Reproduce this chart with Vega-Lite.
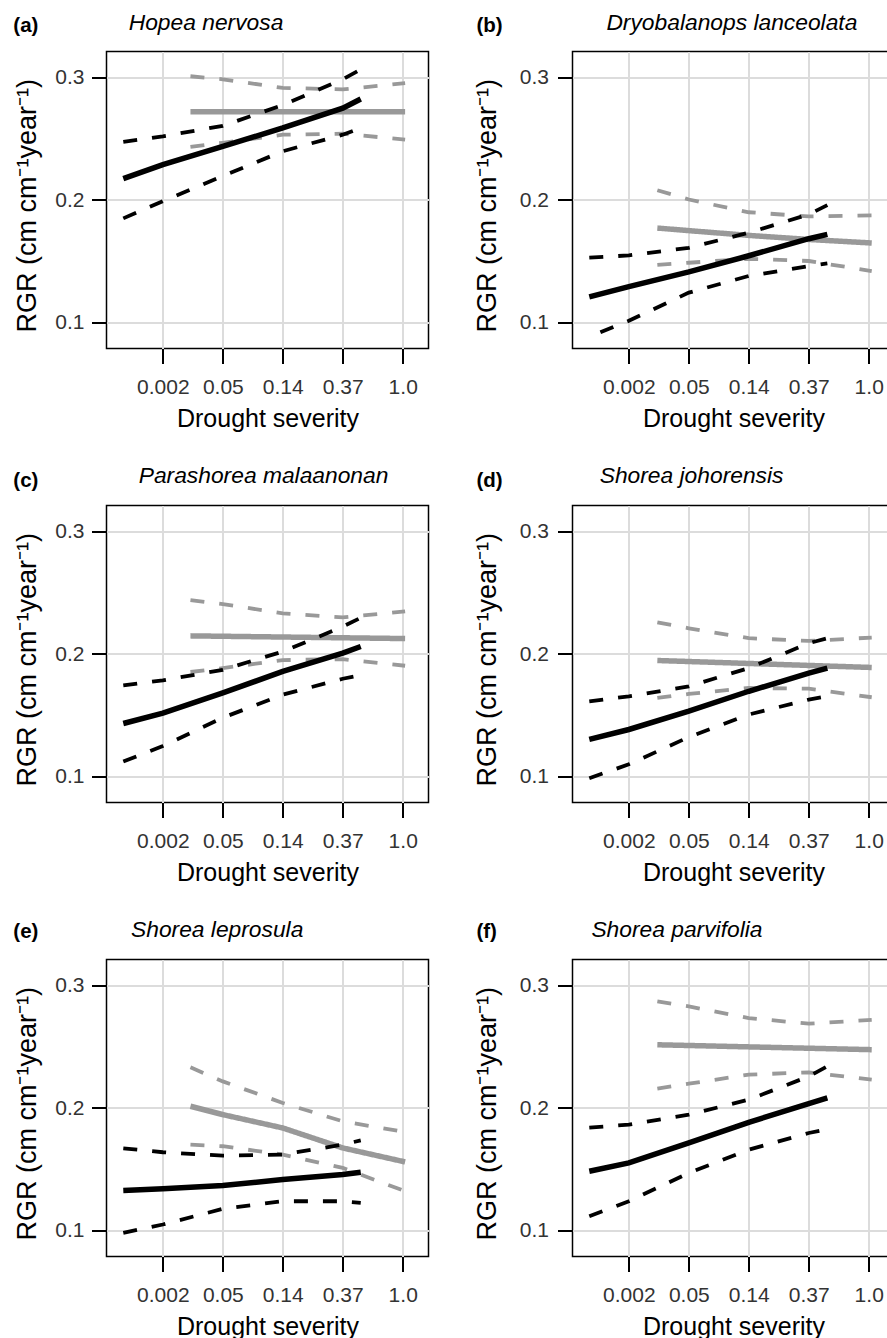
{
  "$schema": "https://vega.github.io/schema/vega-lite/v6.json",
  "padding": {"left": 11.5, "top": 9.5, "right": 0, "bottom": 0},
  "background": "white",
  "data": {"values": [
    {"panel":"a","group":"grey","kind":"fit","x":1.46,"y":0.272},{"panel":"a","group":"grey","kind":"fit","x":5.04,"y":0.272},
    {"panel":"a","group":"grey","kind":"upper","x":1.46,"y":0.301},{"panel":"a","group":"grey","kind":"upper","x":2,"y":0.2985},{"panel":"a","group":"grey","kind":"upper","x":3,"y":0.2915},{"panel":"a","group":"grey","kind":"upper","x":4,"y":0.2903},{"panel":"a","group":"grey","kind":"upper","x":5.04,"y":0.2954},
    {"panel":"a","group":"grey","kind":"lower","x":1.46,"y":0.2433},{"panel":"a","group":"grey","kind":"lower","x":2,"y":0.2467},{"panel":"a","group":"grey","kind":"lower","x":3,"y":0.2533},{"panel":"a","group":"grey","kind":"lower","x":4,"y":0.2541},{"panel":"a","group":"grey","kind":"lower","x":5.04,"y":0.2493},
    {"panel":"a","group":"black","kind":"fit","x":0.34,"y":0.2175},{"panel":"a","group":"black","kind":"fit","x":1,"y":0.2289},{"panel":"a","group":"black","kind":"fit","x":2,"y":0.2438},{"panel":"a","group":"black","kind":"fit","x":3,"y":0.2588},{"panel":"a","group":"black","kind":"fit","x":4,"y":0.275},{"panel":"a","group":"black","kind":"fit","x":4.3,"y":0.2824},
    {"panel":"a","group":"black","kind":"upper","x":0.34,"y":0.2474},{"panel":"a","group":"black","kind":"upper","x":1,"y":0.252},{"panel":"a","group":"black","kind":"upper","x":2,"y":0.2605},{"panel":"a","group":"black","kind":"upper","x":3,"y":0.2775},{"panel":"a","group":"black","kind":"upper","x":4,"y":0.2985},{"panel":"a","group":"black","kind":"upper","x":4.3,"y":0.3065},
    {"panel":"a","group":"black","kind":"lower","x":0.34,"y":0.185},{"panel":"a","group":"black","kind":"lower","x":1,"y":0.199},{"panel":"a","group":"black","kind":"lower","x":2,"y":0.2195},{"panel":"a","group":"black","kind":"lower","x":3,"y":0.2398},{"panel":"a","group":"black","kind":"lower","x":4,"y":0.2533},{"panel":"a","group":"black","kind":"lower","x":4.3,"y":0.2588},

    {"panel":"b","group":"grey","kind":"fit","x":1.475,"y":0.1771},{"panel":"b","group":"grey","kind":"fit","x":2,"y":0.175},{"panel":"b","group":"grey","kind":"fit","x":3,"y":0.1711},{"panel":"b","group":"grey","kind":"fit","x":4,"y":0.1678},{"panel":"b","group":"grey","kind":"fit","x":5.05,"y":0.1649},
    {"panel":"b","group":"grey","kind":"upper","x":1.475,"y":0.208},{"panel":"b","group":"grey","kind":"upper","x":2,"y":0.2004},{"panel":"b","group":"grey","kind":"upper","x":3,"y":0.19},{"panel":"b","group":"grey","kind":"upper","x":4,"y":0.1866},{"panel":"b","group":"grey","kind":"upper","x":5.05,"y":0.1874},
    {"panel":"b","group":"grey","kind":"lower","x":1.475,"y":0.147},{"panel":"b","group":"grey","kind":"lower","x":2,"y":0.1488},{"panel":"b","group":"grey","kind":"lower","x":3,"y":0.152},{"panel":"b","group":"grey","kind":"lower","x":4,"y":0.1502},{"panel":"b","group":"grey","kind":"lower","x":5.05,"y":0.142},
    {"panel":"b","group":"black","kind":"fit","x":0.34,"y":0.121},{"panel":"b","group":"black","kind":"fit","x":1,"y":0.1293},{"panel":"b","group":"black","kind":"fit","x":2,"y":0.1413},{"panel":"b","group":"black","kind":"fit","x":3,"y":0.1545},{"panel":"b","group":"black","kind":"fit","x":4,"y":0.1684},{"panel":"b","group":"black","kind":"fit","x":4.31,"y":0.172},
    {"panel":"b","group":"black","kind":"upper","x":0.34,"y":0.1529},{"panel":"b","group":"black","kind":"upper","x":1,"y":0.1548},{"panel":"b","group":"black","kind":"upper","x":2,"y":0.161},{"panel":"b","group":"black","kind":"upper","x":3,"y":0.1733},{"panel":"b","group":"black","kind":"upper","x":4,"y":0.1882},{"panel":"b","group":"black","kind":"upper","x":4.31,"y":0.1958},
    {"panel":"b","group":"black","kind":"lower","x":0.525,"y":0.092},{"panel":"b","group":"black","kind":"lower","x":1,"y":0.1014},{"panel":"b","group":"black","kind":"lower","x":2,"y":0.1244},{"panel":"b","group":"black","kind":"lower","x":3,"y":0.138},{"panel":"b","group":"black","kind":"lower","x":4,"y":0.1461},{"panel":"b","group":"black","kind":"lower","x":4.31,"y":0.1483},

    {"panel":"c","group":"grey","kind":"fit","x":1.46,"y":0.2148},{"panel":"c","group":"grey","kind":"fit","x":5.04,"y":0.2126},
    {"panel":"c","group":"grey","kind":"upper","x":1.46,"y":0.244},{"panel":"c","group":"grey","kind":"upper","x":2,"y":0.2407},{"panel":"c","group":"grey","kind":"upper","x":3,"y":0.2332},{"panel":"c","group":"grey","kind":"upper","x":4,"y":0.2299},{"panel":"c","group":"grey","kind":"upper","x":5.04,"y":0.2348},
    {"panel":"c","group":"grey","kind":"lower","x":1.46,"y":0.1853},{"panel":"c","group":"grey","kind":"lower","x":2,"y":0.1885},{"panel":"c","group":"grey","kind":"lower","x":3,"y":0.195},{"panel":"c","group":"grey","kind":"lower","x":4,"y":0.1958},{"panel":"c","group":"grey","kind":"lower","x":5.04,"y":0.1904},
    {"panel":"c","group":"black","kind":"fit","x":0.34,"y":0.1433},{"panel":"c","group":"black","kind":"fit","x":1,"y":0.1517},{"panel":"c","group":"black","kind":"fit","x":2,"y":0.1682},{"panel":"c","group":"black","kind":"fit","x":3,"y":0.1858},{"panel":"c","group":"black","kind":"fit","x":4,"y":0.2007},{"panel":"c","group":"black","kind":"fit","x":4.3,"y":0.2061},
    {"panel":"c","group":"black","kind":"upper","x":0.34,"y":0.1744},{"panel":"c","group":"black","kind":"upper","x":1,"y":0.1785},{"panel":"c","group":"black","kind":"upper","x":2,"y":0.1871},{"panel":"c","group":"black","kind":"upper","x":3,"y":0.202},{"panel":"c","group":"black","kind":"upper","x":4,"y":0.2223},{"panel":"c","group":"black","kind":"upper","x":4.3,"y":0.2296},
    {"panel":"c","group":"black","kind":"lower","x":0.34,"y":0.1122},{"panel":"c","group":"black","kind":"lower","x":1,"y":0.1249},{"panel":"c","group":"black","kind":"lower","x":2,"y":0.148},{"panel":"c","group":"black","kind":"lower","x":3,"y":0.1668},{"panel":"c","group":"black","kind":"lower","x":4,"y":0.1798},{"panel":"c","group":"black","kind":"lower","x":4.27,"y":0.1825},

    {"panel":"d","group":"grey","kind":"fit","x":1.475,"y":0.1947},{"panel":"d","group":"grey","kind":"fit","x":5.05,"y":0.189},
    {"panel":"d","group":"grey","kind":"upper","x":1.475,"y":0.2258},{"panel":"d","group":"grey","kind":"upper","x":2,"y":0.221},{"panel":"d","group":"grey","kind":"upper","x":3,"y":0.2129},{"panel":"d","group":"grey","kind":"upper","x":4,"y":0.2107},{"panel":"d","group":"grey","kind":"upper","x":5.05,"y":0.2134},
    {"panel":"d","group":"grey","kind":"lower","x":1.475,"y":0.1641},{"panel":"d","group":"grey","kind":"lower","x":2,"y":0.1674},{"panel":"d","group":"grey","kind":"lower","x":3,"y":0.1723},{"panel":"d","group":"grey","kind":"lower","x":4,"y":0.1717},{"panel":"d","group":"grey","kind":"lower","x":5.05,"y":0.1647},
    {"panel":"d","group":"black","kind":"fit","x":0.34,"y":0.1303},{"panel":"d","group":"black","kind":"fit","x":1,"y":0.1384},{"panel":"d","group":"black","kind":"fit","x":2,"y":0.1533},{"panel":"d","group":"black","kind":"fit","x":3,"y":0.1696},{"panel":"d","group":"black","kind":"fit","x":4,"y":0.1844},{"panel":"d","group":"black","kind":"fit","x":4.31,"y":0.1885},
    {"panel":"d","group":"black","kind":"upper","x":0.34,"y":0.1614},{"panel":"d","group":"black","kind":"upper","x":1,"y":0.1655},{"panel":"d","group":"black","kind":"upper","x":2,"y":0.1736},{"panel":"d","group":"black","kind":"upper","x":3,"y":0.1885},{"panel":"d","group":"black","kind":"upper","x":4,"y":0.2088},{"panel":"d","group":"black","kind":"upper","x":4.31,"y":0.2129},
    {"panel":"d","group":"black","kind":"lower","x":0.34,"y":0.0986},{"panel":"d","group":"black","kind":"lower","x":1,"y":0.11},{"panel":"d","group":"black","kind":"lower","x":2,"y":0.1322},{"panel":"d","group":"black","kind":"lower","x":3,"y":0.1506},{"panel":"d","group":"black","kind":"lower","x":4,"y":0.1628},{"panel":"d","group":"black","kind":"lower","x":4.31,"y":0.1655},

    {"panel":"e","group":"grey","kind":"fit","x":1.46,"y":0.2014},{"panel":"e","group":"grey","kind":"fit","x":2,"y":0.1946},{"panel":"e","group":"grey","kind":"fit","x":3,"y":0.1837},{"panel":"e","group":"grey","kind":"fit","x":4,"y":0.1674},{"panel":"e","group":"grey","kind":"fit","x":5.04,"y":0.156},
    {"panel":"e","group":"grey","kind":"upper","x":1.46,"y":0.2332},{"panel":"e","group":"grey","kind":"upper","x":2,"y":0.2217},{"panel":"e","group":"grey","kind":"upper","x":3,"y":0.2041},{"panel":"e","group":"grey","kind":"upper","x":4,"y":0.1891},{"panel":"e","group":"grey","kind":"upper","x":5.04,"y":0.1804},
    {"panel":"e","group":"grey","kind":"lower","x":1.46,"y":0.1701},{"panel":"e","group":"grey","kind":"lower","x":2,"y":0.1688},{"panel":"e","group":"grey","kind":"lower","x":3,"y":0.162},{"panel":"e","group":"grey","kind":"lower","x":4,"y":0.1511},{"panel":"e","group":"grey","kind":"lower","x":5.04,"y":0.1321},
    {"panel":"e","group":"black","kind":"fit","x":0.34,"y":0.1326},{"panel":"e","group":"black","kind":"fit","x":1,"y":0.134},{"panel":"e","group":"black","kind":"fit","x":2,"y":0.1367},{"panel":"e","group":"black","kind":"fit","x":3,"y":0.1416},{"panel":"e","group":"black","kind":"fit","x":4,"y":0.1457},{"panel":"e","group":"black","kind":"fit","x":4.3,"y":0.1476},
    {"panel":"e","group":"black","kind":"upper","x":0.34,"y":0.1671},{"panel":"e","group":"black","kind":"upper","x":1,"y":0.1639},{"panel":"e","group":"black","kind":"upper","x":2,"y":0.1611},{"panel":"e","group":"black","kind":"upper","x":3,"y":0.162},{"panel":"e","group":"black","kind":"upper","x":4,"y":0.1701},{"panel":"e","group":"black","kind":"upper","x":4.3,"y":0.1736},
    {"panel":"e","group":"black","kind":"lower","x":0.34,"y":0.0981},{"panel":"e","group":"black","kind":"lower","x":1,"y":0.1049},{"panel":"e","group":"black","kind":"lower","x":2,"y":0.1177},{"panel":"e","group":"black","kind":"lower","x":3,"y":0.1239},{"panel":"e","group":"black","kind":"lower","x":4,"y":0.1239},{"panel":"e","group":"black","kind":"lower","x":4.3,"y":0.1226},

    {"panel":"f","group":"grey","kind":"fit","x":1.475,"y":0.2516},{"panel":"f","group":"grey","kind":"fit","x":5.05,"y":0.2476},
    {"panel":"f","group":"grey","kind":"upper","x":1.475,"y":0.287},{"panel":"f","group":"grey","kind":"upper","x":2,"y":0.2829},{"panel":"f","group":"grey","kind":"upper","x":3,"y":0.2734},{"panel":"f","group":"grey","kind":"upper","x":4,"y":0.2688},{"panel":"f","group":"grey","kind":"upper","x":5.05,"y":0.272},
    {"panel":"f","group":"grey","kind":"lower","x":1.475,"y":0.2158},{"panel":"f","group":"grey","kind":"lower","x":2,"y":0.2198},{"panel":"f","group":"grey","kind":"lower","x":3,"y":0.2272},{"panel":"f","group":"grey","kind":"lower","x":4,"y":0.2291},{"panel":"f","group":"grey","kind":"lower","x":5.05,"y":0.2231},
    {"panel":"f","group":"black","kind":"fit","x":0.34,"y":0.1484},{"panel":"f","group":"black","kind":"fit","x":1,"y":0.1552},{"panel":"f","group":"black","kind":"fit","x":2,"y":0.1715},{"panel":"f","group":"black","kind":"fit","x":3,"y":0.1883},{"panel":"f","group":"black","kind":"fit","x":4,"y":0.2035},{"panel":"f","group":"black","kind":"fit","x":4.31,"y":0.2082},
    {"panel":"f","group":"black","kind":"upper","x":0.34,"y":0.184},{"panel":"f","group":"black","kind":"upper","x":1,"y":0.1864},{"panel":"f","group":"black","kind":"upper","x":2,"y":0.1946},{"panel":"f","group":"black","kind":"upper","x":3,"y":0.2068},{"panel":"f","group":"black","kind":"upper","x":4,"y":0.2258},{"panel":"f","group":"black","kind":"upper","x":4.31,"y":0.234},
    {"panel":"f","group":"black","kind":"lower","x":0.34,"y":0.1117},{"panel":"f","group":"black","kind":"lower","x":1,"y":0.1239},{"panel":"f","group":"black","kind":"lower","x":2,"y":0.147},{"panel":"f","group":"black","kind":"lower","x":3,"y":0.166},{"panel":"f","group":"black","kind":"lower","x":4,"y":0.1796},{"panel":"f","group":"black","kind":"lower","x":4.27,"y":0.1823}
  ]},
  "columns": 2,
  "bounds": "flush",
  "spacing": {"row": 157, "column": 144},
  "concat": [
    {
      "width": 322, "height": 297,
      "transform": [{"filter": "datum.panel === 'a'"}],
      "resolve": {"scale": {"x": "independent"}},
      "layer": [
        {"transform": [{"filter": "datum.group === 'grey'"}],
         "mark": {"type": "line", "color": "#999999"},
         "encoding": {
           "x": {"field": "x", "type": "quantitative", "scale": {"domain": [0.06, 5.43], "nice": false, "zero": false},
                 "axis": {"orient": "bottom", "values": [1,2,3,4,5], "labelExpr": "['','0.002','0.05','0.14','0.37','1.0'][datum.value]", "title": "Drought severity"}},
           "y": {"field": "y", "type": "quantitative", "scale": {"domain": [0.0788, 0.3212], "nice": false, "zero": false},
                 "axis": {"values": [0.1,0.2,0.3], "format": ".1f", "title": "RGR (cm cm⁻¹year⁻¹)", "labelPadding": 7.5, "titleX": -79.3}},
           "detail": {"field": "kind", "type": "nominal"},
           "strokeWidth": {"condition": {"test": "datum.kind === 'fit'", "value": 5.5}, "value": 3.8},
           "strokeDash": {"condition": {"test": "datum.kind === 'fit'", "value": [1, 0]}, "value": [14, 15]}
         }},
        {"transform": [{"filter": "datum.group === 'black' && datum.kind !== 'fit'"}],
         "mark": {"type": "line", "color": "#000000", "strokeWidth": 3.8, "strokeDash": [14, 15]},
         "encoding": {
           "x": {"field": "x", "type": "quantitative", "scale": {"domain": [0.06, 5.43], "nice": false, "zero": false},
                 "axis": {"orient": "top", "domain": false, "ticks": false, "labels": false, "grid": false, "title": "(a)", "titleFontSize": 20.5, "titleFontWeight": "bold", "titleAlign": "left", "titleX": -93.7, "titleY": -20}},
           "y": {"field": "y", "type": "quantitative", "scale": {"domain": [0.0788, 0.3212], "nice": false, "zero": false}},
           "detail": {"field": "kind", "type": "nominal"}
         }},
        {"transform": [{"filter": "datum.group === 'black' && datum.kind === 'fit'"}],
         "mark": {"type": "line", "color": "#000000", "strokeWidth": 5.5},
         "encoding": {
           "x": {"field": "x", "type": "quantitative", "scale": {"domain": [0.06, 5.43], "nice": false, "zero": false},
                 "axis": {"orient": "top", "domain": false, "ticks": false, "labels": false, "grid": false, "title": "Hopea nervosa", "titleFontSize": 22.8, "titleFontStyle": "italic", "titleAlign": "left", "titleX": 21.7, "titleY": -22.5}},
           "y": {"field": "y", "type": "quantitative", "scale": {"domain": [0.0788, 0.3212], "nice": false, "zero": false}}
         }}
      ]
    },
    {
      "width": 322, "height": 297,
      "transform": [{"filter": "datum.panel === 'b'"}],
      "resolve": {"scale": {"x": "independent"}},
      "layer": [
        {"transform": [{"filter": "datum.group === 'grey'"}],
         "mark": {"type": "line", "color": "#999999"},
         "encoding": {
           "x": {"field": "x", "type": "quantitative", "scale": {"domain": [0.06, 5.43], "nice": false, "zero": false},
                 "axis": {"orient": "bottom", "values": [1,2,3,4,5], "labelExpr": "['','0.002','0.05','0.14','0.37','1.0'][datum.value]", "title": "Drought severity"}},
           "y": {"field": "y", "type": "quantitative", "scale": {"domain": [0.0788, 0.3212], "nice": false, "zero": false},
                 "axis": {"values": [0.1,0.2,0.3], "format": ".1f", "title": "RGR (cm cm⁻¹year⁻¹)", "labelPadding": 9, "titleX": -85}},
           "detail": {"field": "kind", "type": "nominal"},
           "strokeWidth": {"condition": {"test": "datum.kind === 'fit'", "value": 5.5}, "value": 3.8},
           "strokeDash": {"condition": {"test": "datum.kind === 'fit'", "value": [1, 0]}, "value": [14, 15]}
         }},
        {"transform": [{"filter": "datum.group === 'black' && datum.kind !== 'fit'"}],
         "mark": {"type": "line", "color": "#000000", "strokeWidth": 3.8, "strokeDash": [14, 15]},
         "encoding": {
           "x": {"field": "x", "type": "quantitative", "scale": {"domain": [0.06, 5.43], "nice": false, "zero": false},
                 "axis": {"orient": "top", "domain": false, "ticks": false, "labels": false, "grid": false, "title": "(b)", "titleFontSize": 20.5, "titleFontWeight": "bold", "titleAlign": "left", "titleX": -96.6, "titleY": -20}},
           "y": {"field": "y", "type": "quantitative", "scale": {"domain": [0.0788, 0.3212], "nice": false, "zero": false}},
           "detail": {"field": "kind", "type": "nominal"}
         }},
        {"transform": [{"filter": "datum.group === 'black' && datum.kind === 'fit'"}],
         "mark": {"type": "line", "color": "#000000", "strokeWidth": 5.5},
         "encoding": {
           "x": {"field": "x", "type": "quantitative", "scale": {"domain": [0.06, 5.43], "nice": false, "zero": false},
                 "axis": {"orient": "top", "domain": false, "ticks": false, "labels": false, "grid": false, "title": "Dryobalanops lanceolata", "titleFontSize": 22.8, "titleFontStyle": "italic", "titleAlign": "left", "titleX": 33.4, "titleY": -22.5}},
           "y": {"field": "y", "type": "quantitative", "scale": {"domain": [0.0788, 0.3212], "nice": false, "zero": false}}
         }}
      ]
    },
    {
      "width": 322, "height": 297,
      "transform": [{"filter": "datum.panel === 'c'"}],
      "resolve": {"scale": {"x": "independent"}},
      "layer": [
        {"transform": [{"filter": "datum.group === 'grey'"}],
         "mark": {"type": "line", "color": "#999999"},
         "encoding": {
           "x": {"field": "x", "type": "quantitative", "scale": {"domain": [0.06, 5.43], "nice": false, "zero": false},
                 "axis": {"orient": "bottom", "values": [1,2,3,4,5], "labelExpr": "['','0.002','0.05','0.14','0.37','1.0'][datum.value]", "title": "Drought severity"}},
           "y": {"field": "y", "type": "quantitative", "scale": {"domain": [0.0788, 0.3212], "nice": false, "zero": false},
                 "axis": {"values": [0.1,0.2,0.3], "format": ".1f", "title": "RGR (cm cm⁻¹year⁻¹)", "labelPadding": 7.5, "titleX": -79.3}},
           "detail": {"field": "kind", "type": "nominal"},
           "strokeWidth": {"condition": {"test": "datum.kind === 'fit'", "value": 5.5}, "value": 3.8},
           "strokeDash": {"condition": {"test": "datum.kind === 'fit'", "value": [1, 0]}, "value": [14, 15]}
         }},
        {"transform": [{"filter": "datum.group === 'black' && datum.kind !== 'fit'"}],
         "mark": {"type": "line", "color": "#000000", "strokeWidth": 3.8, "strokeDash": [14, 15]},
         "encoding": {
           "x": {"field": "x", "type": "quantitative", "scale": {"domain": [0.06, 5.43], "nice": false, "zero": false},
                 "axis": {"orient": "top", "domain": false, "ticks": false, "labels": false, "grid": false, "title": "(c)", "titleFontSize": 20.5, "titleFontWeight": "bold", "titleAlign": "left", "titleX": -93.7, "titleY": -19.5}},
           "y": {"field": "y", "type": "quantitative", "scale": {"domain": [0.0788, 0.3212], "nice": false, "zero": false}},
           "detail": {"field": "kind", "type": "nominal"}
         }},
        {"transform": [{"filter": "datum.group === 'black' && datum.kind === 'fit'"}],
         "mark": {"type": "line", "color": "#000000", "strokeWidth": 5.5},
         "encoding": {
           "x": {"field": "x", "type": "quantitative", "scale": {"domain": [0.06, 5.43], "nice": false, "zero": false},
                 "axis": {"orient": "top", "domain": false, "ticks": false, "labels": false, "grid": false, "title": "Parashorea malaanonan", "titleFontSize": 22.8, "titleFontStyle": "italic", "titleAlign": "left", "titleX": 31.7, "titleY": -23}},
           "y": {"field": "y", "type": "quantitative", "scale": {"domain": [0.0788, 0.3212], "nice": false, "zero": false}}
         }}
      ]
    },
    {
      "width": 322, "height": 297,
      "transform": [{"filter": "datum.panel === 'd'"}],
      "resolve": {"scale": {"x": "independent"}},
      "layer": [
        {"transform": [{"filter": "datum.group === 'grey'"}],
         "mark": {"type": "line", "color": "#999999"},
         "encoding": {
           "x": {"field": "x", "type": "quantitative", "scale": {"domain": [0.06, 5.43], "nice": false, "zero": false},
                 "axis": {"orient": "bottom", "values": [1,2,3,4,5], "labelExpr": "['','0.002','0.05','0.14','0.37','1.0'][datum.value]", "title": "Drought severity"}},
           "y": {"field": "y", "type": "quantitative", "scale": {"domain": [0.0788, 0.3212], "nice": false, "zero": false},
                 "axis": {"values": [0.1,0.2,0.3], "format": ".1f", "title": "RGR (cm cm⁻¹year⁻¹)", "labelPadding": 9, "titleX": -85}},
           "detail": {"field": "kind", "type": "nominal"},
           "strokeWidth": {"condition": {"test": "datum.kind === 'fit'", "value": 5.5}, "value": 3.8},
           "strokeDash": {"condition": {"test": "datum.kind === 'fit'", "value": [1, 0]}, "value": [14, 15]}
         }},
        {"transform": [{"filter": "datum.group === 'black' && datum.kind !== 'fit'"}],
         "mark": {"type": "line", "color": "#000000", "strokeWidth": 3.8, "strokeDash": [14, 15]},
         "encoding": {
           "x": {"field": "x", "type": "quantitative", "scale": {"domain": [0.06, 5.43], "nice": false, "zero": false},
                 "axis": {"orient": "top", "domain": false, "ticks": false, "labels": false, "grid": false, "title": "(d)", "titleFontSize": 20.5, "titleFontWeight": "bold", "titleAlign": "left", "titleX": -96.6, "titleY": -19.5}},
           "y": {"field": "y", "type": "quantitative", "scale": {"domain": [0.0788, 0.3212], "nice": false, "zero": false}},
           "detail": {"field": "kind", "type": "nominal"}
         }},
        {"transform": [{"filter": "datum.group === 'black' && datum.kind === 'fit'"}],
         "mark": {"type": "line", "color": "#000000", "strokeWidth": 5.5},
         "encoding": {
           "x": {"field": "x", "type": "quantitative", "scale": {"domain": [0.06, 5.43], "nice": false, "zero": false},
                 "axis": {"orient": "top", "domain": false, "ticks": false, "labels": false, "grid": false, "title": "Shorea johorensis", "titleFontSize": 22.8, "titleFontStyle": "italic", "titleAlign": "left", "titleX": 26.7, "titleY": -22.7}},
           "y": {"field": "y", "type": "quantitative", "scale": {"domain": [0.0788, 0.3212], "nice": false, "zero": false}}
         }}
      ]
    },
    {
      "width": 322, "height": 297,
      "transform": [{"filter": "datum.panel === 'e'"}],
      "resolve": {"scale": {"x": "independent"}},
      "layer": [
        {"transform": [{"filter": "datum.group === 'grey'"}],
         "mark": {"type": "line", "color": "#999999"},
         "encoding": {
           "x": {"field": "x", "type": "quantitative", "scale": {"domain": [0.06, 5.43], "nice": false, "zero": false},
                 "axis": {"orient": "bottom", "values": [1,2,3,4,5], "labelExpr": "['','0.002','0.05','0.14','0.37','1.0'][datum.value]", "title": "Drought severity"}},
           "y": {"field": "y", "type": "quantitative", "scale": {"domain": [0.0788, 0.3212], "nice": false, "zero": false},
                 "axis": {"values": [0.1,0.2,0.3], "format": ".1f", "title": "RGR (cm cm⁻¹year⁻¹)", "labelPadding": 7.5, "titleX": -79.3}},
           "detail": {"field": "kind", "type": "nominal"},
           "strokeWidth": {"condition": {"test": "datum.kind === 'fit'", "value": 5.5}, "value": 3.8},
           "strokeDash": {"condition": {"test": "datum.kind === 'fit'", "value": [1, 0]}, "value": [14, 15]}
         }},
        {"transform": [{"filter": "datum.group === 'black' && datum.kind !== 'fit'"}],
         "mark": {"type": "line", "color": "#000000", "strokeWidth": 3.8, "strokeDash": [14, 15]},
         "encoding": {
           "x": {"field": "x", "type": "quantitative", "scale": {"domain": [0.06, 5.43], "nice": false, "zero": false},
                 "axis": {"orient": "top", "domain": false, "ticks": false, "labels": false, "grid": false, "title": "(e)", "titleFontSize": 20.5, "titleFontWeight": "bold", "titleAlign": "left", "titleX": -93.7, "titleY": -22}},
           "y": {"field": "y", "type": "quantitative", "scale": {"domain": [0.0788, 0.3212], "nice": false, "zero": false}},
           "detail": {"field": "kind", "type": "nominal"}
         }},
        {"transform": [{"filter": "datum.group === 'black' && datum.kind === 'fit'"}],
         "mark": {"type": "line", "color": "#000000", "strokeWidth": 5.5},
         "encoding": {
           "x": {"field": "x", "type": "quantitative", "scale": {"domain": [0.06, 5.43], "nice": false, "zero": false},
                 "axis": {"orient": "top", "domain": false, "ticks": false, "labels": false, "grid": false, "title": "Shorea leprosula", "titleFontSize": 22.8, "titleFontStyle": "italic", "titleAlign": "left", "titleX": 24, "titleY": -22.7}},
           "y": {"field": "y", "type": "quantitative", "scale": {"domain": [0.0788, 0.3212], "nice": false, "zero": false}}
         }}
      ]
    },
    {
      "width": 322, "height": 297,
      "transform": [{"filter": "datum.panel === 'f'"}],
      "resolve": {"scale": {"x": "independent"}},
      "layer": [
        {"transform": [{"filter": "datum.group === 'grey'"}],
         "mark": {"type": "line", "color": "#999999"},
         "encoding": {
           "x": {"field": "x", "type": "quantitative", "scale": {"domain": [0.06, 5.43], "nice": false, "zero": false},
                 "axis": {"orient": "bottom", "values": [1,2,3,4,5], "labelExpr": "['','0.002','0.05','0.14','0.37','1.0'][datum.value]", "title": "Drought severity"}},
           "y": {"field": "y", "type": "quantitative", "scale": {"domain": [0.0788, 0.3212], "nice": false, "zero": false},
                 "axis": {"values": [0.1,0.2,0.3], "format": ".1f", "title": "RGR (cm cm⁻¹year⁻¹)", "labelPadding": 9, "titleX": -85}},
           "detail": {"field": "kind", "type": "nominal"},
           "strokeWidth": {"condition": {"test": "datum.kind === 'fit'", "value": 5.5}, "value": 3.8},
           "strokeDash": {"condition": {"test": "datum.kind === 'fit'", "value": [1, 0]}, "value": [14, 15]}
         }},
        {"transform": [{"filter": "datum.group === 'black' && datum.kind !== 'fit'"}],
         "mark": {"type": "line", "color": "#000000", "strokeWidth": 3.8, "strokeDash": [14, 15]},
         "encoding": {
           "x": {"field": "x", "type": "quantitative", "scale": {"domain": [0.06, 5.43], "nice": false, "zero": false},
                 "axis": {"orient": "top", "domain": false, "ticks": false, "labels": false, "grid": false, "title": "(f)", "titleFontSize": 20.5, "titleFontWeight": "bold", "titleAlign": "left", "titleX": -96.6, "titleY": -22}},
           "y": {"field": "y", "type": "quantitative", "scale": {"domain": [0.0788, 0.3212], "nice": false, "zero": false}},
           "detail": {"field": "kind", "type": "nominal"}
         }},
        {"transform": [{"filter": "datum.group === 'black' && datum.kind === 'fit'"}],
         "mark": {"type": "line", "color": "#000000", "strokeWidth": 5.5},
         "encoding": {
           "x": {"field": "x", "type": "quantitative", "scale": {"domain": [0.06, 5.43], "nice": false, "zero": false},
                 "axis": {"orient": "top", "domain": false, "ticks": false, "labels": false, "grid": false, "title": "Shorea parvifolia", "titleFontSize": 22.8, "titleFontStyle": "italic", "titleAlign": "left", "titleX": 18.4, "titleY": -22.7}},
           "y": {"field": "y", "type": "quantitative", "scale": {"domain": [0.0788, 0.3212], "nice": false, "zero": false}}
         }}
      ]
    }
  ],
  "config": {
    "font": "Liberation Sans",
    "view": {"stroke": "#000000", "strokeWidth": 1.5},
    "axisX": {"domain": false, "grid": true, "gridColor": "#dcdcdc", "gridWidth": 2, "ticks": true, "tickSize": 15, "tickWidth": 2, "tickColor": "#000000",
              "labelFontSize": 21, "labelColor": "#333333", "labelBaseline": "alphabetic", "labelPadding": 29.5,
              "labelFlush": false, "labelOverlap": false, "labelBound": false,
              "titleFontSize": 25, "titleFontWeight": "normal", "titleColor": "#000000", "titleAlign": "center", "titleBaseline": "alphabetic",
              "titleX": 161, "titleY": 78.4},
    "axisY": {"domain": false, "grid": true, "gridColor": "#dcdcdc", "gridWidth": 2, "ticks": true, "tickSize": 15, "tickWidth": 2, "tickColor": "#000000",
              "labelFontSize": 21, "labelColor": "#333333", "labelBaseline": "middle", "labelAlign": "right",
              "labelFlush": false, "labelOverlap": false, "labelBound": false,
              "titleFontSize": 27, "titleFontWeight": "normal", "titleColor": "#000000", "titleAngle": 270, "titleAlign": "center", "titleBaseline": "middle",
              "titleY": 153.8}
  }
}
